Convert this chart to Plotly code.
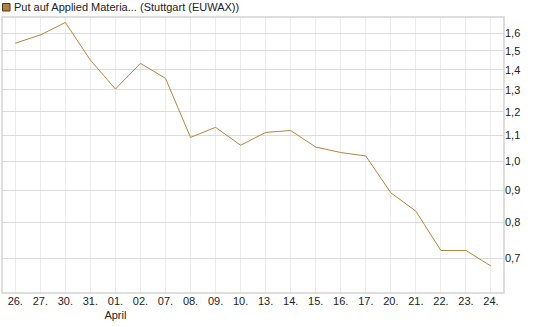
import plotly.graph_objects as go

categories = ["26.", "27.", "30.", "31.", "01.", "02.", "07.", "08.", "09.", "10.",
              "13.", "14.", "15.", "16.", "17.", "20.", "21.", "22.", "23.", "24."]
values = [1.543, 1.590, 1.665, 1.450, 1.304, 1.433, 1.356, 1.092, 1.133, 1.061,
          1.112, 1.120, 1.054, 1.033, 1.020, 0.891, 0.833, 0.721, 0.721, 0.681]
month_labels = {"01.": "April"}
y_ticks = [0.7, 0.8, 0.9, 1.0, 1.1, 1.2, 1.3, 1.4, 1.5, 1.6]
series_name = "Put auf Applied Materia... (Stuttgart (EUWAX))"

line_color = "#b5843c"
tick_text = [c + ("<br>" + month_labels[c] if c in month_labels else "") for c in categories]
x_idx = list(range(len(categories)))

fig = go.Figure()
fig.add_trace(go.Scatter(x=x_idx, y=values, mode="lines",
                         line=dict(color=line_color, width=1),
                         name=series_name, showlegend=False, hoverinfo="skip"))

fig.update_layout(
    width=545, height=327,
    margin=dict(l=2, r=41, t=17, b=34),
    paper_bgcolor="white", plot_bgcolor="white",
    separators=",.",
    font=dict(family="Liberation Sans, Arial, sans-serif", size=11, color="#222"),
    xaxis=dict(range=[-0.53, 19.52], tickmode="array", tickvals=x_idx, ticktext=tick_text,
               showgrid=True, gridcolor="#ececec", gridwidth=1, zeroline=False,
               showline=False, ticks="", tickfont=dict(size=11, color="#222")),
    yaxis=dict(type="log", range=[-0.2098, 0.2301], side="right", tickmode="array",
               tickvals=y_ticks, tickformat=".1f",
               showgrid=True, gridcolor="#dcdcdc", gridwidth=1, zeroline=False,
               showline=False, ticks="", tickfont=dict(size=11, color="#222")),
    shapes=[
        dict(type="rect", xref="paper", yref="paper", x0=0, x1=1, y0=0, y1=1,
             line=dict(color="#d4d4d4", width=1.5), fillcolor="rgba(0,0,0,0)", layer="above"),
        dict(type="rect", xref="paper", yref="paper", xsizemode="pixel", ysizemode="pixel",
             xanchor=0, yanchor=1, x0=0.5, x1=8, y0=13.5, y1=6,
             line=dict(color="#4a3a20", width=1), fillcolor="#b08040"),
    ],
    annotations=[
        dict(text=series_name, xref="paper", yref="paper", x=0, y=1,
             xshift=10, yshift=10, xanchor="left", yanchor="middle", showarrow=False,
             font=dict(size=11, color="#222")),
    ],
)

fig.write_html("out.html")
